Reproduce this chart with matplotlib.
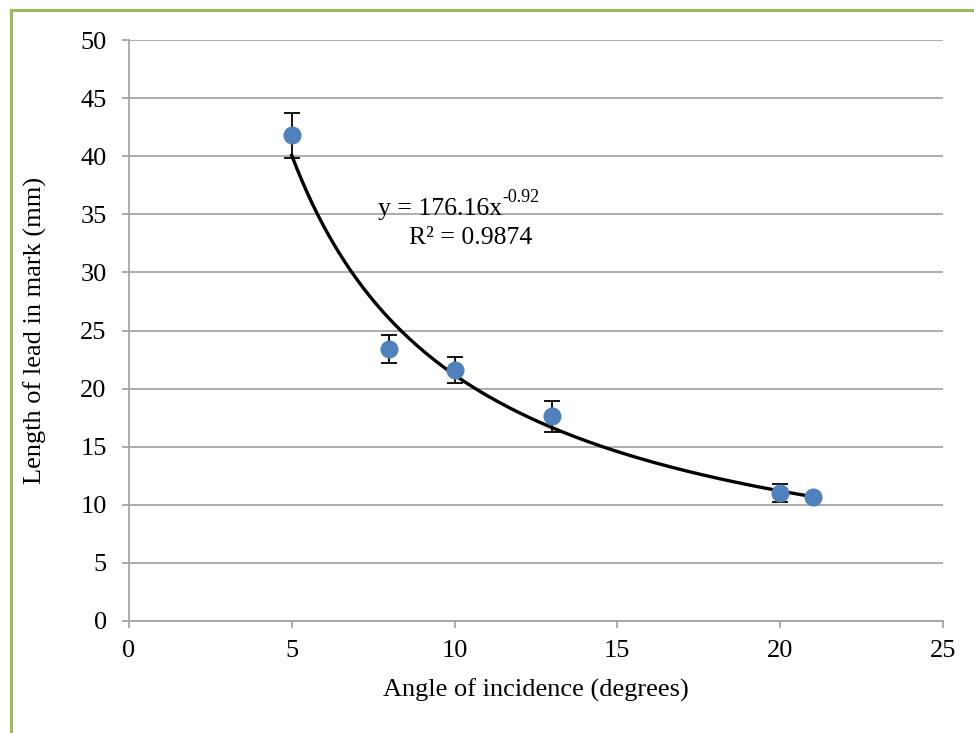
import matplotlib
matplotlib.use("Agg")
import matplotlib.pyplot as plt
import numpy as np
from matplotlib.lines import Line2D

angle = [5, 8, 10, 13, 20, 21]
length = [41.8, 23.4, 21.6, 17.6, 11.0, 10.7]
err = [1.95, 1.2, 1.15, 1.3, 0.8, 0.0]

fit_a = 176.16
fit_b = -0.92

plt.rcParams["font.family"] = ["Liberation Serif", "DejaVu Serif"]

fig = plt.figure(figsize=(9.74, 7.33), dpi=100)
ax = fig.add_axes([0.1324, 0.1528, 0.8356, 0.7926])

ax.set_xlim(0, 25)
ax.set_ylim(0, 50)
ax.set_xticks(range(0, 26, 5))
ax.set_yticks(range(0, 51, 5))
ax.grid(axis="y", color="#A6A6A6", linewidth=1.3)
ax.set_axisbelow(True)

for spine in ["top", "right"]:
    ax.spines[spine].set_visible(False)
for spine in ["left", "bottom"]:
    ax.spines[spine].set_color("#A6A6A6")
    ax.spines[spine].set_linewidth(1.3)
ax.tick_params(axis="both", direction="out", length=5, width=1.3, color="#A6A6A6",
               labelsize=19, labelcolor="black")
ax.tick_params(axis="y", pad=11)
ax.tick_params(axis="x", pad=9)

xs = np.linspace(min(angle), max(angle), 200)
ax.plot(xs, fit_a * xs ** fit_b, color="black", linewidth=2.4, zorder=2)

ax.errorbar(angle, length, yerr=err, fmt="o", color="#4F81BD", markersize=12,
            ecolor="black", elinewidth=1.3, capsize=6, capthick=1.3, zorder=3)

# trendline label, exponent drawn as its own small text
eq = ax.text(9.55, 35.5, f"y = {fit_a:.2f}x", fontsize=18.5, ha="center", va="center")
ax.annotate(f"{fit_b:.2f}", xy=(1.0, 0.62), xycoords=eq, fontsize=13, ha="left", va="bottom")
ax.text(10.5, 33.0, "R² = 0.9874", fontsize=18.5, ha="center", va="center")

ax.set_xlabel("Angle of incidence (degrees)", fontsize=19)
ax.set_ylabel("Length of lead in mark (mm)", fontsize=19)
ax.yaxis.set_label_coords(-0.115, 0.5)
ax.xaxis.set_label_coords(0.5, -0.119)
ax.xaxis.label.set_va("center")
ax.yaxis.label.set_va("center")

# green frame, left and top only
frame = dict(color="#9BBB59", linewidth=2.2, transform=fig.transFigure)
fig.add_artist(Line2D([0.0113, 0.0113], [0.0, 0.9863], **frame))
fig.add_artist(Line2D([0.0113, 1.0], [0.9863, 0.9863], **frame))

fig.savefig("out.png", dpi=100)
